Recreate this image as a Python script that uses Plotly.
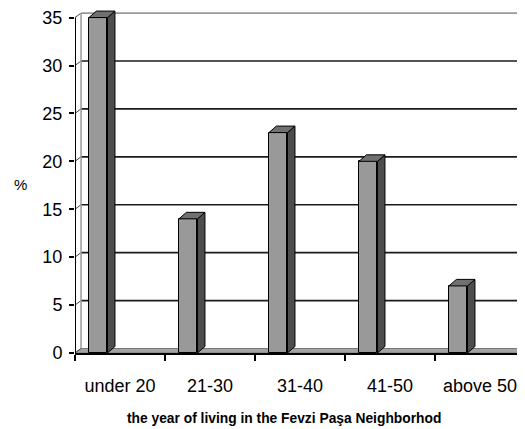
import plotly.graph_objects as go

categories = ["under 20", "21-30", "31-40", "41-50", "above 50"]
percent = [35, 14, 23, 20, 7]
y_ticks = [0, 5, 10, 15, 20, 25, 30, 35]
x_title = "the year of living in the Fevzi Paşa Neighborhod"
y_title = "%"

# style constants (pseudo-3D depth, in axis units)
BAR_OFFSET = -0.345
BAR_WIDTH = 0.206
DXB, DYB = 0.083, 0.68
DXW, DYW = 0.067, 0.47
FRONT = "#999999"
SIDE = "#4d4d4d"
TOP = "#707070"

fig = go.Figure()
fig.add_trace(go.Bar(
    x=categories, y=percent, width=BAR_WIDTH, offset=BAR_OFFSET,
    marker=dict(color=FRONT, line=dict(color="black", width=1)),
    showlegend=False, hoverinfo="x+y"))

shapes = []
# floor
shapes.append(dict(type="path", xref="x", yref="y", layer="below",
                   path=f"M -0.5,0 L 4.7,0 L 4.7,{DYW} L {-0.5 + DXW},{DYW} Z",
                   fillcolor="#a3a3a3", line=dict(color="#7a7a7a", width=1)))
# back wall gridlines and side wall diagonals
for v in y_ticks:
    if v > 0:
        col = "#9a9a9a" if v == y_ticks[-1] else "#1a1a1a"
        shapes.append(dict(type="line", xref="x", yref="y", layer="below",
                           x0=-0.5 + DXW, x1=4.7, y0=v + DYW, y1=v + DYW,
                           line=dict(color=col, width=1.6)))
    shapes.append(dict(type="line", xref="x", yref="y", layer="below",
                       x0=-0.5, x1=-0.5 + DXW, y0=v, y1=v + DYW,
                       line=dict(color="#444444", width=1)))
# back wall left edge
shapes.append(dict(type="line", xref="x", yref="y", layer="below",
                   x0=-0.5 + DXW, x1=-0.5 + DXW, y0=DYW, y1=y_ticks[-1] + DYW,
                   line=dict(color="#9a9a9a", width=1.5)))
# y axis line
shapes.append(dict(type="line", xref="x", yref="y", layer="above",
                   x0=-0.497, x1=-0.497, y0=0, y1=y_ticks[-1],
                   line=dict(color="black", width=1.5)))
# bar side and top faces
for i, v in enumerate(percent):
    x0 = i + BAR_OFFSET
    x1 = x0 + BAR_WIDTH
    shapes.append(dict(type="path", xref="x", yref="y", layer="above",
                       path=f"M {x1},0 L {x1 + DXB},{DYB} L {x1 + DXB},{v + DYB} L {x1},{v} Z",
                       fillcolor=SIDE, line=dict(color="black", width=1)))
    shapes.append(dict(type="path", xref="x", yref="y", layer="above",
                       path=f"M {x0},{v} L {x0 + DXB},{v + DYB} L {x1 + DXB},{v + DYB} L {x1},{v} Z",
                       fillcolor=TOP, line=dict(color="black", width=1)))

tick_font = dict(family="Liberation Sans, Arial, sans-serif", size=18, color="black")

fig.update_layout(
    width=525, height=429, autosize=False,
    margin=dict(l=67, r=8, t=0, b=84),
    paper_bgcolor="white", plot_bgcolor="white",
    shapes=shapes,
    bargap=0,
    xaxis=dict(type="category", range=[-0.5, 4.5], tickson="boundaries",
               ticks="outside", ticklen=6, tickwidth=1.5, tickcolor="black",
               showline=True, linecolor="black", linewidth=1.5,
               showgrid=False, zeroline=False, tickfont=tick_font,
               ticklabelstandoff=16, ticklabeloverflow="allow", fixedrange=True),
    yaxis=dict(range=[0, 36], tickmode="array", tickvals=y_ticks,
               ticktext=[str(t) for t in y_ticks],
               ticks="outside", ticklen=5, tickwidth=1.5, tickcolor="black",
               showline=False, showgrid=False, zeroline=False,
               tickfont=tick_font, ticklabelstandoff=3,
               ticklabeloverflow="allow", fixedrange=True),
    annotations=[
        dict(text=y_title, xref="paper", yref="paper", x=-0.122, y=0.488,
             showarrow=False, xanchor="center", yanchor="middle",
             font=dict(family="Liberation Sans, Arial, sans-serif", size=15, color="black")),
        dict(text=f"<b>{x_title}</b>", xref="paper", yref="paper", x=0.464, y=-0.19,
             showarrow=False, xanchor="center", yanchor="middle",
             font=dict(family="Liberation Sans, Arial, sans-serif",
                       size=13.8, color="black")),
    ],
)

fig.write_html("out.html")
